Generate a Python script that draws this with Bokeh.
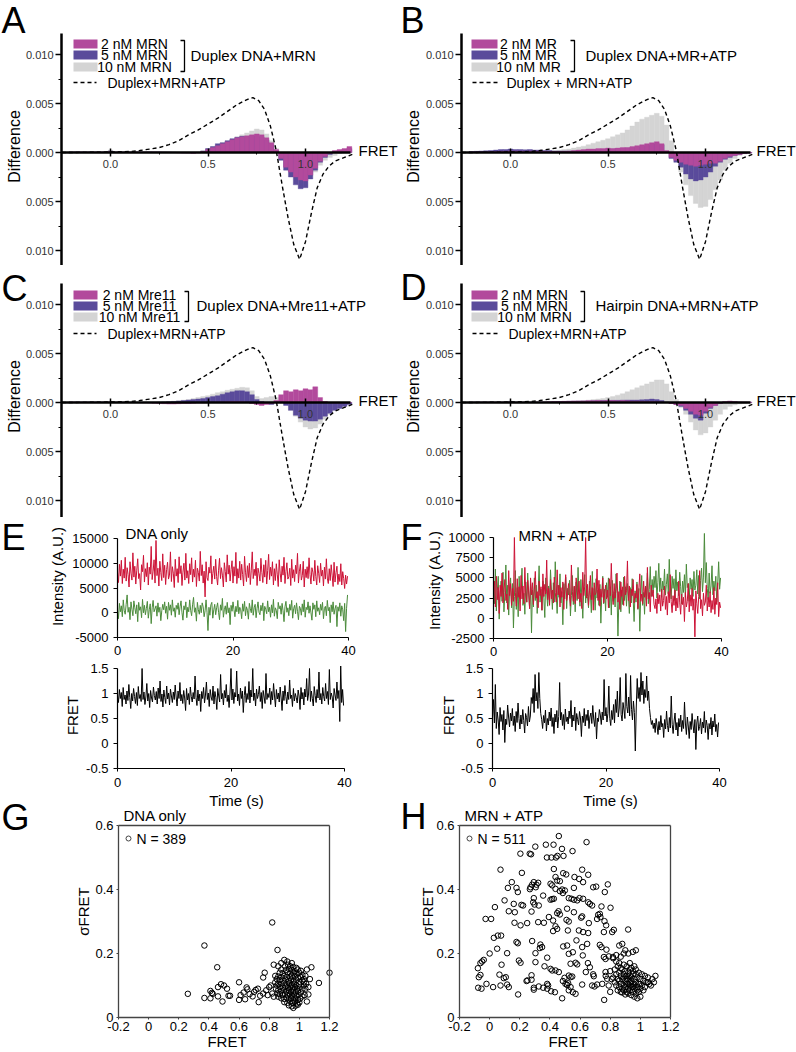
import numpy as np
from bokeh.plotting import figure
from bokeh.layouts import column, row
from bokeh.models import Range1d, LinearAxis, FixedTicker, CustomJSTickFormatter, Label
from bokeh.embed import file_html
from bokeh.resources import INLINE

FONT = "Liberation Sans"
MAG, PUR, GRY = "#B24A9C", "#5A4B9B", "#D4D4D4"
RED, GRN = "#CC1236", "#4B8B3B"

# ---------------- data ----------------
# difference histograms (bin centres in FRET, values in units of 1e-4)
bin_w = 0.025
bin_centers = np.round(-0.2 + bin_w * np.arange(58), 4)

a_2nm = [0.5, 0.5, 0.6, 0.5, 0.4, 0.5, 0.6, 0.5, 1.0, 0.6,
         0.5, 0.4, 0.5, 0.6, 0.5, 0.4, 0.5, 0.6, 0.4, 0.3,
         0.2, 0.0, -0.3, -0.5, -0.6, -0.8, -0.4, 1.0, 3.0, 5.0,
         7.0, 9.0, 11.0, 13.0, 15.0, 16.0, 17.0, 18.0, 19.0, 18.0,
         15.0, 10.0, 3.0, -6.0, -15.0, -20.0, -25.0, -28.0, -29.0, -23.0,
         -16.0, -9.0, -4.0, -1.0, 2.0, 3.0, 4.0, 6.0]
a_5nm = [0.5, 0.6, 0.5, 0.5, 0.6, 0.5, 0.5, 0.6, 1.5, 0.5,
         0.6, 0.5, 0.5, 0.6, 0.5, 0.5, 0.6, 0.5, 0.5, 0.4,
         0.3, 0.2, 0.0, -0.2, -0.3, -0.5, 0.0, 1.5, 4.0, 6.0,
         9.0, 10.0, 12.0, 14.0, 15.5, 16.5, 16.0, 17.0, 17.0, 16.0,
         13.0, 8.0, 2.0, -8.0, -18.0, -25.0, -33.0, -37.0, -36.0, -27.0,
         -18.0, -10.0, -5.0, -2.0, 1.0, 2.0, 3.0, 4.0]
a_10nm = [0.6, 0.6, 0.7, 0.6, 0.6, 0.7, 0.6, 0.8, 2.5, 0.8,
          0.7, 0.6, 0.7, 0.7, 0.6, 0.7, 0.7, 0.6, 0.6, 0.5,
          0.5, 0.4, 0.4, 0.5, 0.3, 0.2, 0.5, 2.0, 4.0, 6.0,
          8.0, 10.0, 12.0, 14.0, 16.0, 18.0, 20.0, 22.0, 24.0, 23.0,
          19.0, 12.0, 4.0, -5.0, -14.0, -19.0, -22.0, -25.0, -26.0, -24.0,
          -20.0, -13.0, -8.0, -5.0, -3.0, -1.0, 1.0, 2.0]

b_2nm = [0.5, 0.5, 0.6, 0.6, 0.8, 1.0, 1.2, 1.3, 1.5, 1.5,
         1.4, 1.3, 1.5, 1.4, 1.3, 1.2, 1.1, 1.0, 1.0, 1.2,
         1.5, 2.0, 2.5, 3.0, 3.5, 3.5, 4.0, 4.0, 4.5, 4.0,
         4.5, 5.0, 5.0, 6.0, 7.0, 8.0, 9.0, 10.0, 11.0, 9.0,
         2.0, -5.0, -8.0, -10.0, -12.0, -13.0, -14.0, -13.0, -12.0, -11.0,
         -11.0, -9.0, -6.0, -4.0, -3.0, -2.0, -1.0, -0.5]
b_5nm = [1.0, 1.2, 1.5, 1.8, 2.0, 2.5, 3.0, 3.0, 3.5, 3.0,
         3.0, 2.8, 3.0, 2.5, 2.5, 2.0, 2.0, 1.5, 1.5, 1.5,
         1.5, 1.5, 2.0, 2.0, 2.5, 2.5, 3.0, 3.0, 3.5, 3.5,
         4.0, 4.0, 4.5, 5.0, 5.5, 6.5, 7.0, 8.0, 9.0, 8.0,
         1.0, -6.0, -10.0, -15.0, -22.0, -27.0, -29.0, -28.0, -25.0, -20.0,
         -14.0, -10.0, -7.0, -5.0, -3.0, -2.0, -1.0, -0.5]
b_10nm = [0.5, 0.5, 0.6, 0.7, 0.8, 1.0, 1.0, 1.2, 1.5, 1.2,
          1.2, 1.0, 1.0, 1.0, 1.0, 1.2, 1.5, 2.0, 2.5, 3.0,
          3.5, 4.5, 5.5, 6.5, 8.0, 9.5, 11.0, 12.5, 14.0, 16.0,
          18.0, 20.0, 23.0, 27.0, 31.0, 34.0, 36.0, 38.0, 40.0, 37.0,
          28.0, 12.0, -6.0, -20.0, -33.0, -44.0, -52.0, -56.0, -55.0, -48.0,
          -38.0, -28.0, -18.0, -11.0, -6.0, -3.0, -1.5, -0.5]

c_2nm = [0.3, 0.3, 0.2, 0.3, 0.2, 0.3, 0.2, 0.3, 0.5, 0.3,
         0.2, 0.1, 0.0, 0.0, -0.2, -0.3, -0.5, -0.8, -1.0, -1.2,
         -1.5, -1.5, -1.2, -1.0, -1.0, -0.8, -0.5, -0.5, -0.3, 0.0,
         0.3, 0.5, 0.8, 1.0, 1.0, 0.8, 0.5, -1.0, -2.0, -3.0,
         -2.0, -1.0, 2.0, 8.0, 12.0, 11.0, 13.0, 12.0, 14.0, 13.0,
         16.0, 5.0, 1.0, 0.0, -0.5, -0.5, -0.3, 0.0]
c_5nm = [0.4, 0.5, 0.5, 0.6, 0.5, 0.5, 0.6, 0.5, 0.5, 0.4,
         0.3, 0.3, 0.2, 0.2, 0.1, 0.0, 0.0, 0.0, 0.2, 0.5,
         0.8, 1.0, 1.5, 2.0, 2.5, 3.0, 3.5, 4.0, 5.0, 6.0,
         7.0, 8.5, 10.0, 11.0, 12.0, 12.0, 11.0, 8.0, 3.0, 1.0,
         -1.0, -2.0, 0.0, 0.0, -3.0, -8.0, -13.0, -16.0, -18.0, -19.0,
         -19.0, -17.0, -14.0, -11.0, -8.0, -6.0, -4.0, -2.0]
c_10nm = [0.3, 0.3, 0.4, 0.3, 0.3, 0.4, 0.3, 0.4, 0.8, 0.4,
          0.3, 0.3, 0.2, 0.2, 0.2, 0.2, 0.3, 0.4, 0.6, 0.8,
          1.0, 1.5, 2.0, 2.5, 3.0, 4.0, 5.0, 6.0, 7.0, 8.5,
          10.0, 11.0, 12.5, 13.5, 14.5, 15.5, 15.0, 12.0, 6.0, 4.0,
          5.0, 6.0, 5.0, 2.0, -2.0, -8.0, -14.0, -20.0, -25.0, -27.0,
          -26.0, -22.0, -17.0, -12.0, -8.0, -5.0, -3.0, -1.5]

d_2nm = [0.3, 0.3, 0.4, 0.3, 0.4, 0.3, 0.4, 0.3, 0.5, 0.3,
         0.3, 0.4, 0.3, 0.4, 0.5, 0.6, 0.8, 1.0, 1.0, 1.2,
         1.3, 1.5, 1.5, 1.6, 1.8, 1.8, 2.0, 1.8, 2.0, 2.0,
         1.8, 2.0, 1.8, 1.5, 1.5, 1.2, 1.0, 1.0, 0.8, 0.5,
         0.0, -1.0, -2.0, -3.0, -6.0, -9.0, -12.0, -13.0, -9.0, -5.0,
         -3.0, -1.0, 1.0, 1.5, 1.0, 0.5, 0.5, 0.3]
d_5nm = [0.3, 0.4, 0.3, 0.4, 0.3, 0.4, 0.3, 0.4, 0.8, 0.4,
         0.3, 0.3, 0.3, 0.4, 0.4, 0.5, 0.6, 0.8, 1.0, 1.0,
         1.2, 1.3, 1.4, 1.5, 1.6, 1.8, 1.8, 2.0, 2.0, 2.2,
         2.2, 2.4, 2.5, 2.5, 2.5, 2.8, 3.0, 3.5, 3.0, 2.0,
         0.5, -1.0, -2.0, -4.0, -8.0, -12.0, -16.0, -18.0, -11.0, -6.0,
         -3.0, -1.0, 0.5, 1.0, 0.8, 0.5, 0.3, 0.2]
d_10nm = [0.3, 0.3, 0.3, 0.3, 0.3, 0.3, 0.4, 0.4, 1.5, 0.4,
          0.3, 0.3, 0.3, 0.3, 0.4, 0.4, 0.5, 0.6, 0.8, 1.0,
          1.2, 1.5, 1.8, 2.0, 2.5, 3.0, 3.5, 4.0, 5.0, 6.0,
          7.5, 9.0, 11.0, 13.0, 15.0, 17.0, 19.0, 21.0, 23.0, 23.0,
          19.0, 11.0, 3.0, -5.0, -12.0, -20.0, -28.0, -33.0, -31.0, -25.0,
          -18.0, -12.0, -7.0, -4.0, -2.5, -1.5, -1.0, -0.5]

# reference curve Duplex+MRN+ATP
dash_fret = [-0.25, -0.2, -0.1, 0.0, 0.1, 0.15, 0.2, 0.25, 0.3, 0.35, 0.4, 0.45, 0.5,
             0.55, 0.6, 0.65, 0.7, 0.73, 0.76, 0.79, 0.82, 0.85, 0.88, 0.91, 0.94,
             0.97, 1.0, 1.03, 1.06, 1.09, 1.12, 1.15, 1.2, 1.24]
dash_diff = [0, 0, 0.00002, 0.00005, 0.0001, 0.0002, 0.00035, 0.0005, 0.0008, 0.0012,
             0.0018, 0.0023, 0.0029, 0.0035, 0.0042, 0.0049, 0.0054, 0.0056, 0.0053,
             0.0044, 0.0027, 0.0002, -0.0033, -0.0066, -0.0094, -0.0109, -0.0091,
             -0.0062, -0.0036, -0.0022, -0.0014, -0.0009, -0.0005, -0.0002]

diff_ticks = [-0.01, -0.005, 0.0, 0.005, 0.01]
diff_minor = [-0.0075, -0.0025, 0.0025, 0.0075]
fret_ticks = [0.0, 0.5, 1.0]
fret_minor = [0.25, 0.75]

# time traces, 6 frames per second (intensities in thousands of A.U.)
t = np.arange(240) / 6.0
e_red_k = [8.2, 6.1, 9.8, 7.4, 10.6, 5.9, 8.8, 7.0, 11.2, 6.4,
           9.1, 7.7, 5.2, 10.3, 8.0, 6.6, 12.1, 7.2, 9.4, 5.8,
           8.6, 10.9, 6.9, 7.9, 4.6, 9.7, 8.3, 11.6, 6.2, 8.9,
           7.3, 10.1, 5.6, 9.2, 7.8, 13.4, 6.7, 8.4, 10.7, 6.0,
           14.6, 7.5, 9.0, 5.4, 10.4, 8.1, 6.5, 11.9, 7.1, 9.6,
           5.7, 8.7, 10.2, 6.8, 7.6, 12.3, 6.3, 9.3, 8.0, 5.1,
           10.8, 7.4, 8.9, 6.1, 11.3, 7.9, 9.5, 5.5, 8.2, 10.0,
           6.6, 12.0, 7.0, 8.5, 5.9, 9.9, 7.7, 11.1, 6.2, 8.8,
           7.2, 10.6, 5.3, 9.0, 8.1, 6.4, 12.4, 7.5, 9.7, 6.0,
           8.4, 3.2, 10.3, 7.1, 6.5, 9.2, 8.0, 11.5, 5.8, 7.9,
           9.4, 6.8, 10.8, 7.3, 5.6, 8.6, 11.0, 6.9, 9.1, 7.6,
           5.2, 10.1, 8.3, 6.2, 11.7, 7.8, 9.6, 6.4, 8.7, 10.5,
           6.0, 9.3, 7.4, 12.2, 5.9, 8.9, 7.0, 10.4, 6.6, 9.8,
           7.7, 5.4, 11.4, 8.2, 6.3, 9.5, 7.1, 10.0, 5.7, 8.6,
           12.3, 6.9, 8.8, 7.5, 10.2, 5.5, 9.0, 7.9, 6.4, 11.0,
           8.1, 6.1, 9.7, 7.2, 10.6, 5.8, 8.5, 11.8, 6.7, 9.2,
           7.4, 10.3, 5.6, 8.9, 6.5, 9.9, 7.8, 5.3, 10.7, 8.0,
           6.2, 9.4, 7.6, 11.2, 5.9, 8.3, 10.1, 6.8, 7.3, 9.0,
           5.5, 10.8, 7.0, 8.7, 6.3, 9.6, 7.9, 12.0, 6.0, 8.4,
           9.8, 6.6, 7.5, 10.4, 5.2, 8.8, 7.1, 9.3, 6.9, 11.1,
           7.7, 5.8, 9.1, 8.2, 6.4, 10.6, 7.3, 5.6, 9.5, 8.0,
           6.1, 10.0, 7.4, 8.6, 5.4, 9.2, 6.8, 10.9, 7.0, 5.9,
           8.9, 6.5, 9.7, 7.6, 5.3, 10.2, 6.2, 8.1, 9.4, 5.7,
           7.8, 6.3, 9.9, 5.6, 8.3, 6.9, 4.9, 7.6, 5.8, 7.4]
e_green_k = [0.6, -1.2, 1.9, 0.2, 1.4, -0.8, 2.6, 0.4, -0.3, 1.7,
             3.6, 0.1, 1.1, -1.4, 2.2, 0.7, -0.6, 2.4, 1.0, -0.2,
             1.6, -1.8, 2.1, 0.5, 1.2, -1.0, 2.7, 0.0, 1.5, -0.4,
             0.9, 2.3, -1.1, 0.6, 1.8, -2.2, 1.0, 2.5, 0.2, 0.8,
             1.4, -0.7, 2.0, 0.1, 1.1, -1.6, 0.4, 1.7, 0.6, 2.2,
             -0.1, 1.3, -1.3, 2.1, 0.5, 1.6, -0.5, 2.6, 0.3, 1.0,
             -0.9, 1.5, 0.7, 2.0, -0.4, 1.2, 2.4, 0.0, -1.5, 1.4,
             0.6, 2.2, -1.0, 1.1, 0.2, 2.6, 0.5, -0.6, 1.6, 3.1,
             0.1, 1.0, -1.7, 2.1, 0.6, -0.3, 1.5, 0.0, 2.0, 1.2,
             -0.8, 0.4, 2.6, 0.1, -3.6, 1.1, -0.5, 1.6, 2.1, -1.1,
             0.6, 1.7, -0.4, 1.0, 2.0, 0.1, -1.4, 1.6, 0.5, 2.9,
             -0.9, 0.6, 1.4, -0.3, 2.1, 0.0, 1.0, -2.4, 1.5, 0.3,
             2.2, 0.7, -0.8, 1.3, 0.2, 2.5, -0.2, 1.1, 0.6, -1.2,
             1.8, 0.3, 2.3, -0.6, 1.2, 0.5, -1.3, 1.9, 0.8, 0.0,
             2.6, -0.5, 1.0, 1.7, -1.0, 0.9, 2.2, 0.1, -0.4, 1.5,
             0.4, 2.0, -1.6, 1.3, 0.7, -0.2, 2.4, 0.2, 1.1, -0.9,
             1.6, 0.0, 2.7, -0.7, 1.0, 0.5, -1.2, 2.1, 0.8, 1.4,
             -0.3, 1.9, 0.4, -1.8, 1.2, 2.3, 0.1, 1.0, -0.6, 1.7,
             0.5, 2.5, -1.1, 0.8, 1.5, -0.2, 2.0, 0.3, -1.4, 1.3,
             0.9, -0.5, 1.8, 0.2, 2.6, -0.9, 1.1, 0.6, 2.2, -0.1,
             1.4, 0.0, -1.5, 2.0, 0.7, 1.6, -0.8, 2.4, 0.3, 1.0,
             -0.4, 1.7, 0.5, 2.1, -1.2, 0.9, 1.3, -0.6, 2.5, 0.4,
             1.1, -2.0, 1.6, 0.2, 2.2, -0.3, 0.8, 1.5, -2.8, 1.2,
             0.3, 2.0, -0.7, 1.4, 0.6, -1.6, 1.9, -3.8, 0.9, 3.6]
e_fret = [0.95, 0.82, 1.08, 0.9, 1.02, 0.74, 1.12, 0.88, 0.97, 0.79,
          1.05, 0.86, 1.18, 0.92, 0.7, 1.0, 0.85, 1.1, 0.94, 0.8,
          1.02, 0.76, 1.14, 0.9, 0.98, 0.84, 1.5, 0.88, 1.03, 0.78,
          0.93, 1.2, 0.85, 1.0, 0.72, 1.06, 0.91, 0.83, 1.13, 0.96,
          0.87, 1.04, 0.79, 1.11, 0.9, 1.25, 0.84, 0.99, 0.73, 1.07,
          0.92, 0.8, 1.15, 0.89, 1.01, 0.77, 1.09, 0.95, 0.82, 1.03,
          0.88, 1.17, 0.93, 0.75, 1.05, 0.9, 1.22, 0.85, 0.98, 0.8,
          1.06, 0.91, 0.66, 1.1, 0.87, 1.0, 0.78, 1.13, 0.94, 0.83,
          1.02, 0.89, 1.35, 0.92, 0.76, 1.07, 0.85, 0.99, 0.64, 1.04,
          0.9, 1.12, 0.81, 0.97, 1.23, 0.88, 1.01, 0.74, 1.08, 0.93,
          0.86, 1.15, 0.79, 1.04, 0.92, 0.68, 1.1, 0.95, 0.83, 1.38,
          0.89, 1.0, 0.77, 1.06, 0.91, 1.18, 0.84, 0.97, 0.72, 1.03,
          1.5, 0.87, 1.09, 0.8, 1.02, 0.93, 1.45, 0.85, 0.99, 0.76,
          1.11, 0.9, 1.05, 0.62, 0.96, 1.14, 0.82, 1.0, 0.88, 1.24,
          0.81, 1.07, 0.93, 1.5, 0.86, 1.01, 0.75, 1.09, 0.9, 0.98,
          1.15, 0.84, 1.02, 0.7, 1.06, 0.93, 0.8, 1.4, 0.88, 1.0,
          0.92, 1.11, 0.78, 1.04, 0.87, 1.2, 0.95, 0.73, 1.08, 0.89,
          1.01, 0.83, 1.13, 0.91, 0.66, 1.05, 0.86, 1.16, 0.94, 0.79,
          1.03, 0.88, 1.27, 0.9, 0.97, 0.74, 1.1, 0.85, 1.0, 0.92,
          0.81, 1.07, 0.95, 0.68, 1.12, 0.89, 1.02, 0.77, 1.09, 0.93,
          1.3, 0.86, 0.99, 1.5, 0.84, 1.05, 0.9, 0.75, 1.14, 0.96,
          0.82, 1.08, 0.91, 1.43, 0.87, 1.0, 0.79, 1.12, 0.94, 0.85,
          1.2, 0.9, 1.04, 0.78, 1.48, 0.88, 1.01, 0.93, 0.71, 1.1,
          0.97, 0.86, 1.23, 0.9, 1.06, 0.44, 1.55, 0.82, 1.08, 0.76]

f_red_k = [3.1, 4.6, 1.4, 5.2, 2.3, 3.8, 0.6, 4.1, 2.7, 5.6,
           1.9, 3.5, 4.8, 2.2, 3.0, 1.1, 5.9, 2.8, 4.3, 1.6,
           3.7, 2.1, 10.0, 3.2, 1.5, 4.9, 2.6, 3.9, 0.9, 5.3,
           2.4, 4.0, 1.8, 6.3, 3.1, 2.0, 4.7, 3.4, 1.2, 5.0,
           2.9, 4.4, 1.7, 3.6, 5.8, 2.5, 3.3, 1.3, 4.6, 2.8,
           3.9, 1.0, 5.5, 2.7, 4.2, 3.0, 7.2, 2.3, 3.7, 1.6,
           4.8, 2.4, 3.5, 1.9, 5.1, 3.2, 2.0, 6.0, 2.9, 4.1,
           1.4, 3.8, 2.6, 4.5, 1.1, 3.6, 5.4, 2.2, 3.0, 4.3,
           2.7, 1.5, 6.6, 3.3, 2.1, 4.0, 1.8, 5.0, 3.5, 2.4,
           4.6, 2.0, 3.1, 1.2, 5.7, 2.8, 3.9, 10.0, 2.5, 4.2,
           1.6, 3.4, 5.3, 2.3, 3.8, 1.0, 4.4, 2.9, 3.2, 6.1,
           2.2, 4.7, 1.5, 3.6, 2.6, 5.0, 1.9, 3.0, 4.1, 2.4,
           3.5, 1.3, 4.9, 2.8, 6.8, 3.1, 1.7, 4.3, 2.5, 3.7,
           5.6, 2.0, 3.3, 1.1, 4.5, 2.7, 3.9, 1.6, 5.2, 2.9,
           3.4, 7.1, 2.2, 4.0, 1.4, 3.6, 2.8, 4.8, 1.9, 3.1,
           2.5, 4.2, 1.2, 3.7, 5.5, 2.1, 3.0, 1.8, 4.6, 2.6,
           3.9, 1.5, 6.3, 2.4, 3.2, 0.8, 4.1, 2.7, 3.5, 1.7,
           1.2, 2.4, 0.6, 3.1, 1.8, 2.9, 0.9, 3.6, 1.5, 2.2,
           4.0, 1.1, 2.7, 0.4, 3.3, 1.9, 5.4, 2.1, 0.7, 2.8,
           1.6, 3.5, 0.9, 2.5, 1.3, 4.6, 2.0, 0.5, 3.0, 1.7,
           2.6, -0.4, 3.2, 1.4, 2.1, 4.3, 0.8, 2.9, 1.5, 3.7,
           1.0, 2.4, -2.3, 3.4, 1.8, 0.6, 2.7, 5.9, 1.2, 2.3,
           0.3, 3.1, 1.6, 2.0, 4.1, 0.9, 2.6, 1.4, 3.3, 0.7,
           2.2, 1.1, 3.8, 0.5, 2.5, 1.7, 4.4, 0.2, 2.0, 1.3]
f_green_k = [4.2, 1.8, 6.1, 0.9, 3.4, 5.2, -0.1, 3.0, 4.6, 2.1,
             5.7, 0.8, 3.2, 6.6, 1.9, 4.1, 0.4, 3.6, 5.0, 1.3,
             4.3, -1.2, 2.7, 5.9, 1.1, 3.8, 0.2, 5.2, 2.4, 4.0,
             6.2, 1.6, 3.1, 0.5, 4.5, 2.0, 5.6, 3.0, 1.2, 4.2,
             -1.8, 3.5, 1.4, 5.0, 2.2, 4.1, 0.6, 3.2, 6.5, 2.0,
             3.6, 1.0, 4.6, 2.5, 0.1, 5.0, 3.1, 1.5, 4.0, 2.1,
             6.0, 3.4, 1.1, 4.4, 2.0, 7.0, 3.0, 0.6, 4.1, 2.6,
             5.5, 1.9, 3.3, -0.8, 4.3, 2.4, 5.1, 1.2, 3.7, 2.9,
             4.7, 0.3, 2.8, 5.3, 1.7, 3.9, 0.8, 4.5, 2.2, 6.3,
             3.2, 1.5, 4.8, 2.6, 0.0, 3.6, 5.4, 1.9, 4.0, 2.7,
             1.3, 4.6, 3.0, 0.7, 5.8, 2.3, 3.7, 1.0, 4.9, 2.5,
             3.5, 1.6, 4.2, -0.6, 2.9, 5.2, 1.8, 3.6, 0.9, 4.4,
             2.6, 5.0, 1.3, 3.9, 0.4, 4.7, 2.1, 3.3, 1.4, 5.5,
             3.1, -2.2, 2.4, 4.6, 0.8, 3.5, 1.7, 5.1, 2.2, 3.9,
             1.5, 4.3, 2.7, 0.6, 3.8, 1.9, 4.9, 2.5, -0.4, 3.4,
             2.0, 4.5, 1.1, 3.7, -1.6, 2.9, 5.3, 1.6, 3.2, 0.5,
             4.0, 2.3, 5.6, 1.8, 3.6, 6.4, 2.7, 4.8, 3.1, 5.2,
             3.8, 5.9, 2.5, 4.4, 6.8, 3.3, 5.0, 2.6, 4.6, 3.5,
             6.1, 2.9, 4.2, 5.5, 3.0, 7.3, 4.0, 2.4, 5.2, 3.7,
             4.9, 2.2, 6.0, 3.4, 4.5, 2.8, 5.7, 3.9, 1.8, 4.6,
             3.2, 5.4, 2.6, 6.7, 3.8, 4.3, 2.1, 5.0, 3.6, 4.8,
             2.7, 5.8, 3.5, 4.1, 6.0, 3.0, 5.3, 2.4, 4.7, 6.2,
             3.3, 5.1, 10.5, 4.4, 6.9, 3.7, 2.3, 5.6, 3.1, 4.0,
             6.5, 2.9, 4.6, 3.4, 5.2, 2.0, 4.3, 7.0, 3.6, 5.0]
f_fret = [0.52, 0.88, 0.41, 1.18, 0.3, 0.63, 0.47, 0.18, 0.72, 0.44,
          0.58, 0.27, 0.66, 0.02, 0.49, 0.38, 0.77, 0.53, 0.33, 0.61,
          0.45, 0.7, 0.36, 0.55, 0.24, 0.64, 0.42, 0.81, 0.5, 0.29,
          0.57, 0.39, 0.68, 0.46, 0.21, 0.6, 0.52, 0.35, 0.74, 0.43,
          0.55, 0.92, 0.8, 1.1, 0.62, 1.38, 0.85, 1.02, 0.7, 1.42,
          0.9, 0.6, 0.48, 0.3, 0.56, 0.41, 0.67, 0.25, 0.5, 0.37,
          0.63, 0.45, 0.71, 0.34, 0.52, 0.2, 0.59, 0.43, 0.66, 0.31,
          0.54, 1.22, 0.47, 0.62, 0.36, 0.58, 0.28, 0.69, 0.44, 0.53,
          0.39, 0.65, 0.5, 0.86, 0.33, 0.57, 0.45, 0.73, 0.26, 0.6,
          0.48, 0.37, 0.64, 0.51, 0.14, 0.55, 0.42, 0.7, 0.35, 0.58,
          0.46, 0.67, 0.3, 0.53, 0.61, 0.4, 0.76, 0.49, 0.34, 0.62,
          0.09, 0.51, 0.44, 0.68, 0.57, 0.38, 0.63, 0.47, 1.28, 0.55,
          0.72, 0.43, 0.6, 1.15, 0.5, 0.36, 0.66, 0.48, 0.78, 0.41,
          0.88, 0.62, 1.05, 0.53, 0.71, 1.32, 0.58, 0.45, 0.82, 0.67,
          0.5, 1.4, 0.74, 0.61, 0.93, 0.55, 1.36, 0.68, 0.47, 0.85,
          0.62, -0.15, 0.73, 1.3, 0.9, 1.12, 0.84, 1.42, 0.97, 1.25,
          0.8, 1.08, 0.92, 1.35, 0.86, 1.05, 0.7, 0.52, 0.38, 0.46,
          0.3, 0.41, 0.22, 0.5, 0.35, 0.18, 0.44, 0.27, 0.56, 0.33,
          0.4, 0.12, 0.48, 0.29, 0.65, 0.36, 0.23, 0.52, 0.31, 0.95,
          0.38, 0.2, 0.45, 0.61, 0.27, 0.42, 0.15, 0.5, 0.33, 0.57,
          0.24, 0.46, 0.3, 0.83, 0.39, 0.18, 0.53, 0.35, 0.1, 0.44,
          0.28, 0.6, 0.37, 0.21, 0.48, -0.12, 0.41, 0.55, 0.26, 0.34,
          0.5, 0.19, 0.43, 0.31, 0.64, 0.22, 0.47, 0.36, 0.08, 0.4,
          0.29, 0.52, 0.17, 0.45, 0.33, 0.59, 0.24, 0.38, 0.13, 0.42]

# per-molecule mean FRET vs sigma FRET
g_points = [
    (0.26, 0.074), (0.37, 0.225), (0.37, 0.061), (0.41, 0.083), (0.42, 0.077), (0.425, 0.074),
    (0.41, 0.06), (0.455, 0.157), (0.46, 0.095), (0.46, 0.066), (0.48, 0.104), (0.49, 0.05),
    (0.5, 0.1), (0.52, 0.09), (0.53, 0.068), (0.54, 0.068), (0.6, 0.11), (0.6, 0.055),
    (0.61, 0.07), (0.63, 0.078), (0.65, 0.094), (0.655, 0.088), (0.64, 0.057), (0.67, 0.073),
    (0.69, 0.066), (0.7, 0.08), (0.71, 0.086), (0.725, 0.09), (0.73, 0.048), (0.74, 0.068),
    (0.76, 0.075), (0.77, 0.14), (0.76, 0.125), (0.82, 0.297), (0.855, 0.211), (0.78, 0.085),
    (0.79, 0.07), (0.8, 0.095), (0.81, 0.1), (0.82, 0.075), (0.83, 0.065), (0.84, 0.13),
    (0.85, 0.12), (0.83, 0.165), (0.86, 0.16), (0.88, 0.17), (0.9, 0.18), (1.2, 0.14),
    (1.13, 0.108), (1.08, 0.157), (1.05, 0.15), (1.07, 0.12), (1.06, 0.072), (1.05, 0.05),
    (1.04, 0.13), (1.03, 0.11), (1.06, 0.095),
    (0.88, 0.15), (0.91, 0.148), (0.93, 0.152), (0.95, 0.149), (0.97, 0.145), (0.99, 0.15), (1.01, 0.146),
    (0.87, 0.14), (0.89, 0.138), (0.92, 0.141), (0.94, 0.137), (0.96, 0.139), (0.98, 0.136), (1.0, 0.14),
    (1.02, 0.133), (0.86, 0.128), (0.88, 0.126), (0.9, 0.13), (0.92, 0.127), (0.94, 0.125), (0.95, 0.13),
    (0.97, 0.128), (0.99, 0.124), (1.01, 0.126), (0.87, 0.117), (0.89, 0.115), (0.91, 0.119), (0.93, 0.114),
    (0.945, 0.118), (0.96, 0.113), (0.98, 0.117), (1.0, 0.112), (1.02, 0.115), (0.86, 0.105), (0.88, 0.104),
    (0.9, 0.108), (0.92, 0.103), (0.935, 0.107), (0.95, 0.102), (0.965, 0.106), (0.98, 0.101), (1.0, 0.104),
    (1.03, 0.1), (0.87, 0.095), (0.89, 0.093), (0.91, 0.097), (0.925, 0.092), (0.94, 0.096), (0.955, 0.091),
    (0.97, 0.095), (0.985, 0.09), (1.0, 0.094), (1.02, 0.088), (0.86, 0.085), (0.88, 0.082), (0.9, 0.086),
    (0.915, 0.081), (0.93, 0.085), (0.945, 0.08), (0.96, 0.084), (0.975, 0.079), (0.99, 0.083), (1.01, 0.078),
    (0.87, 0.073), (0.89, 0.07), (0.905, 0.074), (0.92, 0.069), (0.935, 0.073), (0.95, 0.068), (0.965, 0.072),
    (0.98, 0.067), (0.995, 0.071), (1.02, 0.066), (0.88, 0.06), (0.9, 0.058), (0.915, 0.062), (0.93, 0.057),
    (0.945, 0.061), (0.96, 0.056), (0.975, 0.06), (0.99, 0.055), (1.005, 0.059), (0.9, 0.048), (0.92, 0.046),
    (0.94, 0.05), (0.955, 0.045), (0.97, 0.049), (0.985, 0.044), (1.0, 0.047), (0.93, 0.038), (0.95, 0.035),
    (0.96, 0.03), (0.975, 0.037), (0.99, 0.04), (0.85, 0.1), (0.845, 0.09), (0.855, 0.075), (0.84, 0.11),
    (0.86, 0.065), (1.04, 0.09), (1.035, 0.07), (1.045, 0.105), (1.03, 0.12), (0.905, 0.16), (0.925, 0.165),
    (0.94, 0.16), (0.96, 0.158), (0.98, 0.155), (0.92, 0.175), (0.95, 0.17)]

h_points = [
    (0.459, 0.567), (0.643, 0.548), (0.303, 0.534), (0.373, 0.54), (0.424, 0.54), (0.48, 0.527),
    (0.55, 0.52), (0.204, 0.512), (0.266, 0.512), (0.275, 0.51), (0.38, 0.5), (0.41, 0.5),
    (0.44, 0.5), (0.45, 0.505), (0.49, 0.505), (0.072, 0.462), (0.426, 0.464), (0.614, 0.462),
    (0.654, 0.446), (0.488, 0.451), (0.508, 0.447), (0.437, 0.439), (0.448, 0.428), (0.466, 0.426),
    (0.594, 0.433), (0.62, 0.423), (0.563, 0.439), (0.214, 0.452), (0.147, 0.423), (0.121, 0.405),
    (0.178, 0.405), (0.187, 0.392), (0.271, 0.407), (0.282, 0.415), (0.293, 0.423), (0.311, 0.415),
    (0.322, 0.421), (0.306, 0.407), (0.267, 0.401), (0.404, 0.418), (0.415, 0.413), (0.437, 0.402),
    (0.466, 0.395), (0.481, 0.4), (0.486, 0.389), (0.499, 0.397), (0.559, 0.405), (0.687, 0.407),
    (0.707, 0.409), (0.764, 0.392), (0.784, 0.416), (0.355, 0.381), (0.293, 0.373), (0.404, 0.368),
    (0.415, 0.37), (0.426, 0.371), (0.099, 0.366), (0.127, 0.332), (0.16, 0.355), (0.167, 0.329),
    (0.211, 0.352), (0.222, 0.35), (0.289, 0.36), (0.298, 0.353), (0.326, 0.35), (0.278, 0.331),
    (0.457, 0.332), (0.448, 0.326), (0.466, 0.322), (0.514, 0.34), (0.525, 0.373), (0.543, 0.371),
    (0.559, 0.368), (0.581, 0.366), (0.596, 0.373), (0.62, 0.371), (0.654, 0.36), (0.665, 0.355),
    (0.68, 0.35), (0.742, 0.347), (0.802, 0.343), (0.614, 0.316), (0.607, 0.312), (0.72, 0.321),
    (0.731, 0.324), (0.735, 0.314), (0.713, 0.308), (0.559, 0.329), (-0.027, 0.308), (0.01, 0.308),
    (0.035, 0.345), (0.165, 0.296), (0.205, 0.288), (0.249, 0.295), (0.322, 0.298), (0.36, 0.296),
    (0.393, 0.314), (0.421, 0.303), (0.437, 0.285), (0.448, 0.277), (0.421, 0.27), (0.51, 0.305),
    (0.525, 0.3), (0.519, 0.272), (0.592, 0.272), (0.62, 0.267), (0.658, 0.295), (0.654, 0.264),
    (0.762, 0.301), (0.773, 0.288), (0.813, 0.267), (0.824, 0.274), (0.758, 0.267), (0.919, 0.275),
    (0.054, 0.256), (0.076, 0.256), (0.05, 0.215), (0.0, 0.2), (0.116, 0.201), (0.028, 0.249),
    (0.178, 0.236), (0.187, 0.232), (0.282, 0.239), (0.337, 0.228), (0.348, 0.22), (0.333, 0.217),
    (0.304, 0.201), (0.304, 0.173), (0.364, 0.16), (0.382, 0.187), (0.404, 0.152), (0.415, 0.147),
    (0.437, 0.147), (0.459, 0.142), (0.488, 0.222), (0.514, 0.225), (0.525, 0.199), (0.552, 0.204),
    (0.576, 0.241), (0.614, 0.22), (0.618, 0.194), (0.581, 0.166), (0.57, 0.171), (0.537, 0.168),
    (0.647, 0.23), (0.652, 0.17), (0.665, 0.157), (0.687, 0.135), (0.691, 0.129), (0.638, 0.142),
    (0.731, 0.227), (0.742, 0.22), (0.775, 0.212), (0.758, 0.189), (0.769, 0.183), (0.791, 0.191),
    (0.818, 0.189), (0.769, 0.142), (0.78, 0.121), (0.747, 0.105), (0.713, 0.103), (0.68, 0.1),
    (0.696, 0.097), (0.614, 0.103), (0.497, 0.124), (0.525, 0.131), (0.537, 0.126), (0.548, 0.128),
    (0.514, 0.102), (0.521, 0.107), (0.503, 0.105), (0.537, 0.095), (0.525, 0.085), (0.552, 0.079),
    (0.57, 0.074), (0.486, 0.114), (0.481, 0.06), (0.433, 0.079), (0.408, 0.082), (0.382, 0.09),
    (0.388, 0.1), (0.382, 0.105), (0.355, 0.093), (0.326, 0.097), (0.293, 0.093), (0.293, 0.087),
    (0.278, 0.118), (0.278, 0.132), (0.245, 0.114), (0.251, 0.116), (0.189, 0.072), (0.194, 0.178),
    (0.205, 0.171), (0.116, 0.103), (0.127, 0.095), (0.107, 0.126), (0.094, 0.123), (0.065, 0.134),
    (0.072, 0.1), (0.079, 0.165), (0.023, 0.095), (-0.021, 0.105), (-0.061, 0.133), (-0.072, 0.126),
    (-0.078, 0.154), (-0.061, 0.17), (-0.05, 0.175), (-0.039, 0.18), (-0.076, 0.093), (-0.054, 0.09),
    (0.84, 0.175), (0.86, 0.17), (0.85, 0.16), (0.87, 0.155), (0.83, 0.15), (0.88, 0.15), (0.86, 0.14),
    (0.84, 0.135), (0.87, 0.13), (0.89, 0.135), (0.9, 0.145), (0.91, 0.13), (0.92, 0.14), (0.93, 0.15),
    (0.95, 0.145), (0.97, 0.15), (0.99, 0.14), (1.01, 0.135), (1.03, 0.13), (1.05, 0.125), (0.88, 0.12),
    (0.9, 0.115), (0.92, 0.12), (0.94, 0.125), (0.96, 0.12), (0.98, 0.125), (1.0, 0.12), (1.02, 0.115),
    (1.04, 0.11), (1.06, 0.105), (0.87, 0.105), (0.89, 0.1), (0.91, 0.105), (0.93, 0.11), (0.95, 0.105),
    (0.97, 0.11), (0.99, 0.105), (1.01, 0.1), (1.03, 0.095), (1.07, 0.1), (0.86, 0.095), (0.88, 0.09),
    (0.9, 0.095), (0.92, 0.09), (0.94, 0.095), (0.96, 0.09), (0.98, 0.095), (1.0, 0.09), (1.02, 0.085),
    (1.05, 0.11), (0.87, 0.08), (0.89, 0.085), (0.91, 0.08), (0.93, 0.085), (0.95, 0.08), (0.97, 0.075),
    (0.99, 0.08), (0.92, 0.075), (0.94, 0.07), (0.96, 0.065), (0.9, 0.072), (0.88, 0.078), (0.85, 0.085),
    (0.84, 0.1), (0.83, 0.11), (0.85, 0.12), (0.82, 0.125), (0.86, 0.115), (0.93, 0.1), (0.95, 0.095),
    (0.92, 0.105), (0.94, 0.115), (0.96, 0.1), (0.98, 0.085), (0.91, 0.12), (0.89, 0.125), (0.97, 0.135),
    (0.95, 0.135), (0.93, 0.13), (1.0, 0.105), (0.87, 0.19), (0.89, 0.2), (0.9, 0.21), (0.92, 0.2),
    (0.95, 0.205), (0.97, 0.21), (0.86, 0.225), (0.88, 0.23), (0.84, 0.195), (0.82, 0.185), (0.98, 0.06),
    (1.0, 0.065), (1.1, 0.13), (1.08, 0.12), (1.09, 0.11), (0.94, 0.155), (0.96, 0.16), (0.91, 0.16),
    (0.89, 0.165), (0.93, 0.17), (0.76, 0.055), (0.8, 0.08), (0.79, 0.1), (0.77, 0.13), (0.8, 0.145),
    (0.81, 0.12)]


# ---------------- helpers ----------------
def make_fig(fig_box, ref_box, xr, yr):
    """Figure whose plot area fills the whole canvas; ref_box (pixels) maps onto xr/yr."""
    L, T, R, B = fig_box
    l, t_, r, b = ref_box
    sx = (xr[1] - xr[0]) / (r - l)
    sy = (yr[1] - yr[0]) / (b - t_)

    def X(px):
        return xr[0] + (px - l) * sx

    def Y(py):
        return yr[1] - (py - t_) * sy

    p = figure(width=R - L, height=B - T, x_range=Range1d(X(L), X(R)), y_range=Range1d(Y(B), Y(T)),
               x_axis_type=None, y_axis_type=None,
               min_border_left=0, min_border_right=0, min_border_top=0, min_border_bottom=0,
               output_backend="svg", toolbar_location=None)
    p.outline_line_color = None
    p.background_fill_color = "white"
    p.border_fill_color = "white"
    return p, X, Y


def add_label(p, x, y, text, size, align="left", baseline="middle", angle=0, color="black"):
    p.add_layout(Label(x=x, y=y, text=text, text_font=FONT, text_font_size=f"{size}px",
                       text_align=align, text_baseline=baseline, angle=angle,
                       angle_units="deg", text_color=color))


def make_axis(ticks, code, size, loc, bounds, color="black", line_width=1.2, tick_out=4,
              standoff=5, minor=None):
    ax = LinearAxis(ticker=FixedTicker(ticks=ticks, minor_ticks=minor if minor else []),
                    formatter=CustomJSTickFormatter(code=code), fixed_location=loc, bounds=bounds)
    ax.axis_line_color = color
    ax.axis_line_width = line_width
    ax.major_tick_line_color = color
    ax.major_tick_line_width = 1
    ax.major_tick_in = 0
    ax.major_tick_out = tick_out
    ax.minor_tick_line_color = color if minor else None
    ax.minor_tick_in = 0
    ax.minor_tick_out = 2
    ax.major_label_text_font = FONT
    ax.major_label_text_font_size = f"{size}px"
    ax.major_label_standoff = standoff
    ax.major_label_text_color = "black"
    return ax


def diff_panel(fig_box, x0px, y0px, series, leg, letter, letter_xy, diff_x, fret_x):
    # 1.0 FRET = 195 px, 0.01 difference = 98 px
    p, X, Y = make_fig(fig_box, (x0px, y0px - 98, x0px + 195, y0px), (0, 1), (0, 0.01))
    L, T, R, B = fig_box
    mag, pur, gry = series
    for vals, col in ((gry, GRY), (pur, PUR), (mag, MAG)):
        p.vbar(x=bin_centers, top=np.array(vals) * 1e-4, bottom=0, width=bin_w,
               fill_color=col, line_color=col, line_width=0.4)
    p.line(dash_fret, dash_diff, line_color="black", line_width=1.4, line_dash="4 3")

    ya = make_axis(diff_ticks, "return Math.abs(tick).toFixed(3);", 11, X(L + 61),
                   (Y(B), Y(y0px - 119)), line_width=2.5, tick_out=6, standoff=2, minor=diff_minor)
    ya.major_label_text_color = "#333333"
    ya.major_tick_line_width = 1.5
    ya.minor_tick_out = 3
    p.add_layout(ya, "left")

    xa = make_axis(fret_ticks, "return tick.toFixed(1);", 11, 0, (X(L + 61), X(x0px + 240)),
                   line_width=2.5, tick_out=4, standoff=3, minor=fret_minor)
    xa.major_tick_in = 4
    xa.major_tick_line_width = 1.5
    xa.major_label_text_color = "#333333"
    p.add_layout(xa, "below")

    # legend
    colors = [MAG, PUR, GRY]
    for (y_top, y_bot), c, lab in zip(leg["rows"], colors, leg["labels"]):
        p.quad(left=[X(leg["sw"][0])], right=[X(leg["sw"][1])], top=[Y(y_top)], bottom=[Y(y_bot)],
               fill_color=c, line_color=None)
        add_label(p, X(leg["lab_cx"]), Y((y_top + y_bot) / 2), lab, 14, align="center")
    bx = leg["br_x"]
    by0, by1 = leg["br_y"]
    p.line([X(bx - 4), X(bx), X(bx), X(bx - 4)], [Y(by0), Y(by0), Y(by1), Y(by1)],
           line_color="black", line_width=1.3)
    add_label(p, X(leg["title_xy"][0]), Y(leg["title_xy"][1]), leg["title"], 15)
    p.line([X(leg["dash_x"][0]), X(leg["dash_x"][1])], [Y(leg["dash_y"])] * 2,
           line_color="black", line_width=1.4, line_dash="4 3")
    add_label(p, X(leg["dash_tx"]), Y(leg["dash_y"]), leg["dash_text"], 14)

    add_label(p, X(letter_xy[0]), Y(letter_xy[1]), letter, 36)
    add_label(p, X(diff_x), Y(y0px - 6), "Difference", 16, align="center", angle=90)
    add_label(p, X(fret_x), Y(y0px - 2), "FRET", 15)
    return p


leg_a = dict(sw=(73, 97), rows=[(39, 48), (50, 59), (62, 71)], lab_cx=134,
             labels=["2 nM MRN", "5 nM MRN", "10 nM MRN"], br_x=184, br_y=(40, 71),
             title_xy=(190, 55), title="Duplex DNA+MRN", dash_x=(73, 96), dash_y=82,
             dash_tx=107, dash_text="Duplex+MRN+ATP")
leg_b = dict(sw=(471, 497), rows=[(39, 48), (50, 59), (62, 71)], lab_cx=528,
             labels=["2 nM MR", "5 nM MR", "10 nM MR"], br_x=574, br_y=(40, 71),
             title_xy=(585, 55), title="Duplex DNA+MR+ATP", dash_x=(472, 497), dash_y=82,
             dash_tx=506, dash_text="Duplex + MRN+ATP")
leg_c = dict(sw=(73, 97), rows=[(290, 299), (301, 310), (312, 321)], lab_cx=139,
             labels=["2 nM Mre11", "5 nM Mre11", "10 nM Mre11"], br_x=188, br_y=(291, 321),
             title_xy=(196, 305), title="Duplex DNA+Mre11+ATP", dash_x=(73, 96), dash_y=333,
             dash_tx=107, dash_text="Duplex+MRN+ATP")
leg_d = dict(sw=(471, 497), rows=[(290, 299), (301, 310), (312, 321)], lab_cx=534,
             labels=["2 nM MRN", "5 nM MRN", "10 nM MRN"], br_x=584, br_y=(291, 321),
             title_xy=(595, 305), title="Hairpin DNA+MRN+ATP", dash_x=(472, 497), dash_y=333,
             dash_tx=508, dash_text="Duplex+MRN+ATP")

# page rows (pixels): 0-265, 265-517, 517-661, 661-792, 792-1052
pA = diff_panel((0, 0, 400, 265), 110, 152, (a_2nm, a_5nm, a_10nm), leg_a, "A", (1, 20), 14, 358)
pB = diff_panel((400, 0, 796, 265), 510, 152, (b_2nm, b_5nm, b_10nm), leg_b, "B", (400, 20), 413, 756)
pC = diff_panel((0, 265, 400, 517), 110, 402, (c_2nm, c_5nm, c_10nm), leg_c, "C", (1, 288), 14, 358)
pD = diff_panel((400, 265, 796, 517), 510, 402, (d_2nm, d_5nm, d_10nm), leg_d, "D", (400, 287), 413, 756)

INT_FMT = "return String(tick);"
NUM_FMT = "return String(Math.round(tick*100)/100);"


def intensity_panel(fig_box, ref_box, yr, yticks, green, red, letter, letter_x, title, title_xy, ylab_xy):
    p, X, Y = make_fig(fig_box, ref_box, (0, 40), yr)
    p.line(t, np.array(green) * 1000, line_color=GRN, line_width=1.0)
    p.line(t, np.array(red) * 1000, line_color=RED, line_width=1.0)
    p.add_layout(make_axis(yticks, INT_FMT, 13, 0, yr, tick_out=4, standoff=5), "left")
    p.add_layout(make_axis([0, 20, 40], INT_FMT, 13, yr[0], (0, 40), tick_out=3, standoff=5), "below")
    add_label(p, X(letter_x), Y(537), letter, 36)
    add_label(p, X(title_xy[0]), Y(title_xy[1]), title, 15)
    add_label(p, X(ylab_xy[0]), Y(ylab_xy[1]), "Intensity (A.U.)", 15, align="center", angle=90)
    return p


def fret_trace_panel(fig_box, ref_box, fret, ylab_x):
    p, X, Y = make_fig(fig_box, ref_box, (0, 40), (-0.5, 1.5))
    p.line(t, fret, line_color="black", line_width=1.0)
    p.add_layout(make_axis([-0.5, 0, 0.5, 1, 1.5], NUM_FMT, 13, 0, (-0.5, 1.5), tick_out=4, standoff=5), "left")
    p.add_layout(make_axis([0, 20, 40], INT_FMT, 13, -0.5, (0, 40), tick_out=3, standoff=6), "below")
    add_label(p, X(ylab_x), Y(715), "FRET", 15, align="center", angle=90)
    return p


pEi = intensity_panel((0, 517, 400, 661), (117, 538, 348, 637), (-5000, 15000),
                      [-5000, 0, 5000, 10000, 15000], e_green_k, e_red_k, "E", 1,
                      "DNA only", (125, 533), (57, 576))
pFi = intensity_panel((400, 517, 796, 661), (493, 537, 721, 638), (-2500, 10000),
                      [-2500, 0, 2500, 5000, 7500, 10000], f_green_k, f_red_k, "F", 400,
                      "MRN + ATP", (518, 535), (434, 580))
pEf = fret_trace_panel((0, 661, 400, 792), (117, 668, 344, 768), e_fret, 72)
pFf = fret_trace_panel((400, 661, 796, 792), (492, 668, 719, 768), f_fret, 448)


def scatter_panel(fig_box, ref_box, pts, letter, letter_x, letter_y, title, n_text, ylab_x, time_x):
    p, X, Y = make_fig(fig_box, ref_box, (-0.2, 1.2), (0, 0.6))
    xs = [q[0] for q in pts]
    ys = [q[1] for q in pts]
    p.scatter(xs, ys, marker="circle", size=5.5, fill_color=None, line_color="black", line_width=1)
    box_col = "#444444"
    p.add_layout(make_axis([0, 0.2, 0.4, 0.6], NUM_FMT, 13, -0.2, (0, 0.6), color=box_col,
                           line_width=1.3, tick_out=2, standoff=3), "left")
    p.add_layout(make_axis([-0.2, 0, 0.2, 0.4, 0.6, 0.8, 1, 1.2], NUM_FMT, 13, 0, (-0.2, 1.2),
                           color=box_col, line_width=1.3, tick_out=2, standoff=2), "below")
    p.add_layout(make_axis([], NUM_FMT, 13, 1.2, (0, 0.6), color=box_col, line_width=1.3, tick_out=0), "right")
    p.add_layout(make_axis([], NUM_FMT, 13, 0.6, (-0.2, 1.2), color=box_col, line_width=1.3, tick_out=0), "above")
    l, t_, r, b = ref_box
    p.scatter([X(l + 10)], [Y(838)], marker="circle", size=5, fill_color=None,
              line_color=box_col, line_width=1)
    add_label(p, X(l + 18), Y(838), n_text, 14)
    add_label(p, X(letter_x), Y(letter_y), letter, 36)
    add_label(p, X(l + 5), Y(815), title, 15)
    add_label(p, X(ylab_x), Y(911), "\u03c3FRET", 15, align="center", angle=90)
    add_label(p, X((l + r) / 2 + 3), Y(1041), "FRET", 15, align="center")
    # x-axis title of the FRET trace above (shares this strip of the page)
    add_label(p, X(time_x), Y(800), "Time (s)", 15, align="center")
    return p


pG = scatter_panel((0, 792, 400, 1052), (118, 825, 329, 1017), g_points, "G", 1, 817,
                   "DNA only", "N = 389", 83, 236)
pH = scatter_panel((400, 792, 796, 1052), (459, 825, 670, 1017), h_points, "H", 400, 816,
                   "MRN + ATP", "N = 511", 427, 610)

layout = column(row(pA, pB), row(pC, pD), row(pEi, pFi), row(pEf, pFf), row(pG, pH))
open("out.html", "w").write(file_html(layout, INLINE))
